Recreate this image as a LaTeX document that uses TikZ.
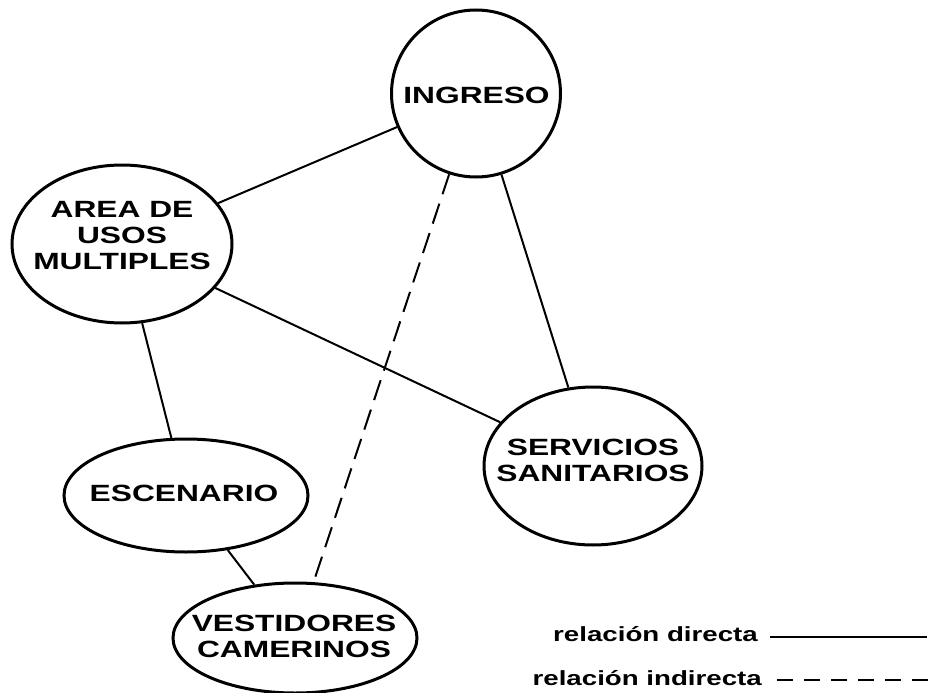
\documentclass[tikz,border=0pt]{standalone}
\usepackage{fontspec}
\setmainfont{Liberation Sans}
\newfontfamily\nodefont[FakeStretch=1.35]{Liberation Sans}
\usetikzlibrary{shapes.geometric}
\tikzset{
  place/.style={draw, ellipse, line width=3pt, inner sep=0pt},
  lab/.style={font=\nodefont\bfseries\fontsize{23.5}{26}\selectfont, align=center, inner sep=0pt},
  rel/.style={line width=2pt},
  ind/.style={line width=2pt, dash pattern=on 21pt off 10pt},
  leg/.style={font=\nodefont\bfseries\fontsize{20.5}{24}\selectfont, inner sep=0pt, anchor=base east},
}
\begin{document}
\begin{tikzpicture}[x=1pt,y=-1pt]
\useasboundingbox (0,0) rectangle (935,693);
\node[place, minimum width=169pt, minimum height=167pt] (ing) at (476,93.5) {};
\node[place, minimum width=220pt, minimum height=158pt] (area) at (122,244) {};
\node[place, minimum width=218pt, minimum height=158pt] (serv) at (593,466) {};
\node[place, minimum width=244pt, minimum height=113pt] (esc) at (186,495.5) {};
\node[place, minimum width=244pt, minimum height=110pt] (vest) at (295,638) {};
\node[lab] (tIng) at (476.5,95.5) {INGRESO};
\node[lab] (tArea) at (122,236) {AREA DE\\USOS\\MULTIPLES};
\node[lab] (tServ) at (593,460) {SERVICIOS\\SANITARIOS};
\node[lab] (tEsc) at (184,493.5) {ESCENARIO};
\node[lab] (tVest) at (294,636) {VESTIDORES\\CAMERINOS};
\draw[rel] (area) -- (ing);
\draw[rel] (area) -- (serv);
\draw[rel] (area) -- (esc);
\draw[rel] (ing) -- (serv);
\draw[ind] (ing) -- (vest);
\draw[rel] (esc) -- (vest);
\node[leg] (ldir) at (758,641) {relación directa};
\node[leg] (lind) at (762,685) {relación indirecta};
\coordinate (d1) at (770,637);
\coordinate (d2) at (927,637);
\coordinate (i1) at (777,680);
\coordinate (i2) at (930,680);
\draw[rel] (d1) -- (d2);
\draw[rel, dash pattern=on 16pt off 11pt] (i1) -- (i2);
\end{tikzpicture}
\end{document}
